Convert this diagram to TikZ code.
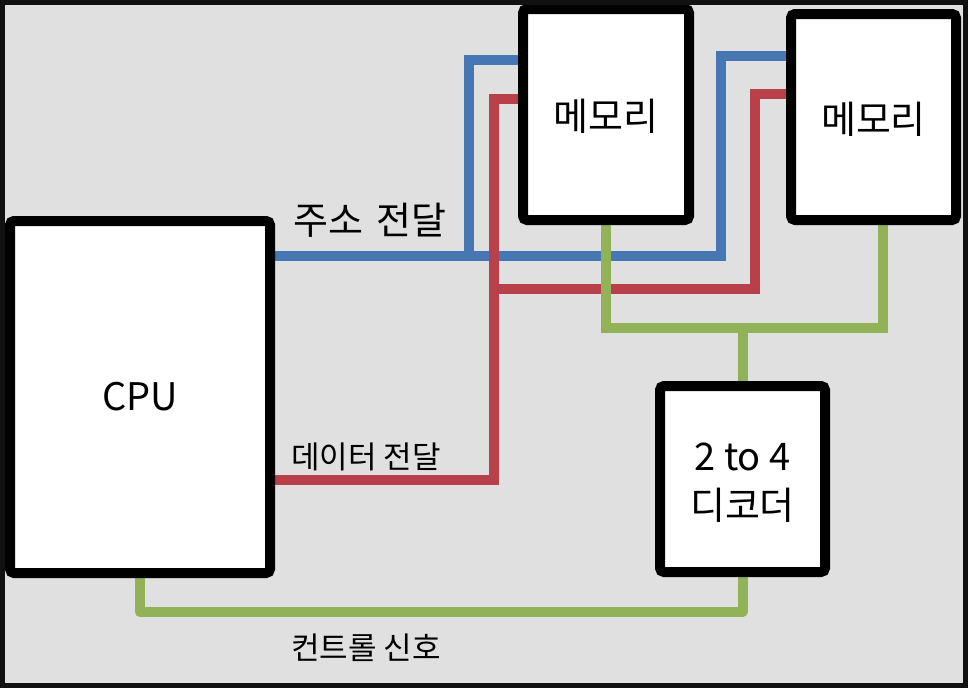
\documentclass[tikz,border=0pt]{standalone}
\usepackage{fontspec}
\setmainfont{Noto Sans CJK KR}
\definecolor{bgc}{HTML}{E0E0E0}
\definecolor{frm}{HTML}{111111}
\definecolor{blu}{HTML}{4677B4}
\definecolor{rd}{HTML}{B7404A}
\definecolor{grn}{HTML}{92B257}
\pgfdeclarelayer{bg}
\pgfdeclarelayer{wires}
\pgfsetlayers{bg,wires,main}
\tikzset{
  box/.style={draw=black, line width=10pt, fill=white, rounded corners=4pt,
    inner sep=0pt, outer sep=0pt, align=center},
  wire/.style={line width=10pt},
  big/.style={font=\fontsize{38}{49}\selectfont, align=center},
  mid/.style={font=\fontsize{38}{44}\selectfont},
  small/.style={font=\fontsize{31}{36}\selectfont},
}
\begin{document}
\begin{tikzpicture}[x=1pt,y=-1pt]
\useasboundingbox (0,0) rectangle (968,688);
\begin{pgfonlayer}{bg}
\fill[bgc] (0,0) rectangle (968,688);
\end{pgfonlayer}
% boxes
\node[box, minimum width=260pt, minimum height=352pt] (cpu) at (140,397) {};
\node[box, minimum width=166pt, minimum height=211pt] (mem1) at (606,114.5) {};
\node[box, minimum width=165pt, minimum height=206pt] (mem2) at (873.5,117) {};
\node[box, minimum width=165pt, minimum height=186pt] (dec) at (742.5,479) {};
% box texts
\node[big] (cputxt) at (140,397) {CPU};
\node[big] (mem1txt) at (606,116) {메모리};
\node[big] (mem2txt) at (873.5,119) {메모리};
\node[big] (dectxt) at (742.5,483) {2 to 4\\디코더};
% junction coordinates
\coordinate (bj) at (469,256);
\coordinate (bc) at (721,256);
\coordinate (bt) at (721,56);
\coordinate (bt1) at (469,60);
\coordinate (rb) at (494,480);
\coordinate (rt1) at (494,99);
\coordinate (rj) at (494,289);
\coordinate (rc) at (755,289);
\coordinate (rt2) at (755,94);
\coordinate (g1) at (606,328);
\coordinate (g2) at (883,328);
\coordinate (gd) at (742.5,328);
\coordinate (c1) at (140,612);
\coordinate (c2) at (742.5,612);
\begin{pgfonlayer}{wires}
\draw[wire,blu] (cpu.east |- bc) -- (bc) -- (bt) -- (bt -| mem2.west);
\draw[wire,blu] (bj) -- (bt1) -- (bt1 -| mem1.west);
\draw[wire,rd] (cpu.east |- rb) -- (rb) -- (rt1) -- (rt1 -| mem1.west);
\draw[wire,rd] (rj) -- (rc) -- (rt2) -- (rt2 -| mem2.west);
\draw[wire,grn] (mem1.south -| g1) -- (g1) -- (g2) -- (g2 |- mem2.south);
\draw[wire,grn] (gd) -- (dec.north);
\draw[wire,grn,line join=round] (cpu.south) -- (c1) -- (c2) -- (dec.south);
\end{pgfonlayer}
% labels
\node[mid] (lab1) at (370,220) {주소\hspace{4pt} 전달};
\node[small] (lab2) at (366,457) {데이터 전달};
\node[small] (lab3) at (366,648) {컨트롤 신호};
% frame
\draw[frm, line width=5pt] (2.5,2.5) rectangle (965.5,685.5);
\end{tikzpicture}
\end{document}
